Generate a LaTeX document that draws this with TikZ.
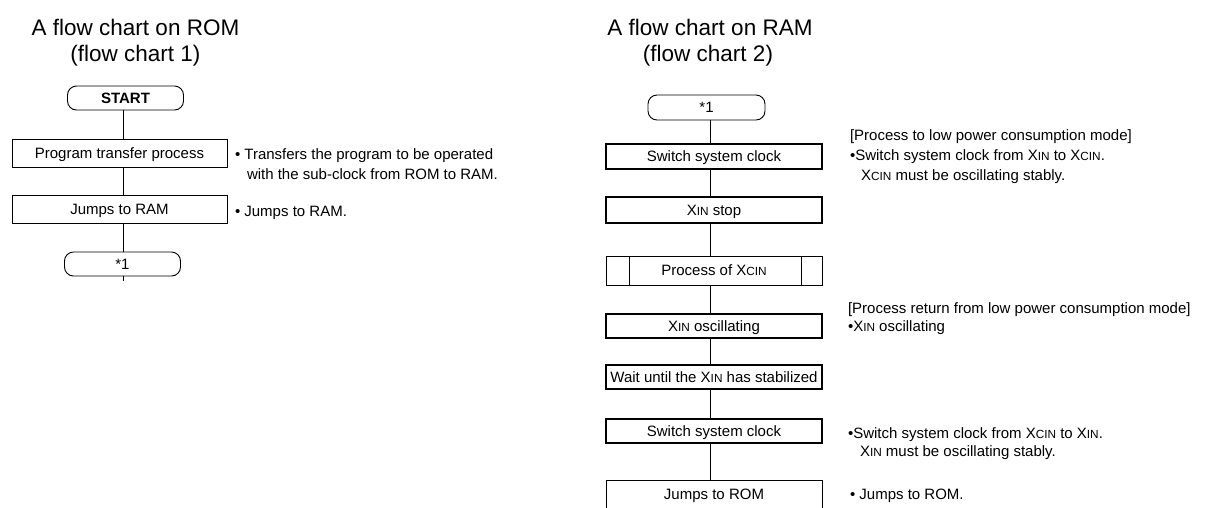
\documentclass[tikz,border=0pt]{standalone}
\usepackage{fontspec}
\setmainfont{Liberation Sans}
\usetikzlibrary{calc}
% smaller capitals used for the oscillator pin names (X-IN, X-CIN)
\newcommand\pinsc[1]{{\fontsize{11.8pt}{12pt}\selectfont #1}}

\begin{document}
\begin{tikzpicture}[x=1pt,y=-1pt,
  every node/.style={inner sep=0pt, outer sep=0pt},
  boxtext/.style={font=\fontsize{15pt}{18pt}\selectfont, text height=10.7pt, text depth=0pt},
  procbox/.style={boxtext, draw, line width=0.9pt, minimum width=216pt, minimum height=26pt},
  thickbox/.style={procbox, line width=2.4pt, minimum height=24pt},
  termbox/.style={boxtext, draw, line width=0.9pt, rounded corners=9pt, minimum width=116pt, minimum height=24pt},
  note/.style={anchor=base west, font=\fontsize{15pt}{18pt}\selectfont},
  heading/.style={anchor=base, font=\fontsize{22.5pt}{27pt}\selectfont},
  link/.style={draw, line width=0.9pt}
]
\fill[white] (0,0) rectangle (1207,507);
\useasboundingbox (0,0) rectangle (1207,507);

% ---------------- flow chart 1 (ROM) ----------------
\node[heading] (t1a) at (135.5,35) {A flow chart on ROM};
\node[heading] (t1b) at (135.5,61) {(flow chart 1)};

\node[termbox, font=\fontsize{15pt}{18pt}\selectfont\bfseries] (start) at (125.5,98) {START};
\node[procbox, minimum width=215pt, minimum height=28pt] (prog) at (119.5,153) {Program transfer process};
\node[procbox, minimum width=215pt, minimum height=28pt] (jram) at (119.5,209) {Jumps to RAM};
\node[termbox] (endl) at (122.5,264) {*1};

\coordinate (spineL) at (123,0);
\coordinate (tailL) at (123,281);
\draw[link] (start.south -| spineL) -- (prog.north -| spineL);
\draw[link] (prog.south -| spineL) -- (jram.north -| spineL);
\draw[link] (jram.south -| spineL) -- (endl.north -| spineL);
\draw[link] (endl.south -| spineL) -- (tailL);

\node[note] (n1a) at (235,159.4) {\textbullet\ Transfers the program to be operated};
\node[note] (n1b) at (247,179.4) {with the sub-clock from ROM to RAM.};
\node[note] (n1c) at (235,216.4) {\textbullet\ Jumps to RAM.};

% ---------------- flow chart 2 (RAM) ----------------
\node[heading] (t2a) at (710,35) {A flow chart on RAM};
\node[heading] (t2b) at (708,61) {(flow chart 2)};

\node[termbox, minimum width=117pt, minimum height=25pt] (s1) at (706.5,107.5) {*1};
\node[thickbox, minimum height=25pt] (ssc1) at (714,156.5) {Switch system clock};
\node[thickbox, minimum height=26pt] (xstop) at (714,210) {X\pinsc{IN} stop};
\node[procbox, minimum height=29pt] (pxcin) at (714,270.5) {Process of X\pinsc{CIN}};
\node[thickbox] (xosc) at (714,326) {X\pinsc{IN} oscillating};
\node[thickbox] (wait) at (714,377) {Wait until the X\pinsc{IN} has stabilized};
\node[thickbox] (ssc2) at (714,431) {Switch system clock};
\node[procbox, minimum height=44pt, text depth=16pt] (jrom) at (714,502) {Jumps to ROM};

% predefined-process side bars
\draw[line width=0.9pt] ($(pxcin.north west)+(23,0)$) -- ($(pxcin.south west)+(23,0)$);
\draw[line width=0.9pt] ($(pxcin.north east)+(-21,0)$) -- ($(pxcin.south east)+(-21,0)$);

\coordinate (spineR) at (710,0);
\draw[link] (s1.south -| spineR) -- (ssc1.north -| spineR);
\draw[link] (ssc1.south -| spineR) -- (xstop.north -| spineR);
\draw[link] (xstop.south -| spineR) -- (pxcin.north -| spineR);
\draw[link] (pxcin.south -| spineR) -- (xosc.north -| spineR);
\draw[link] (xosc.south -| spineR) -- (wait.north -| spineR);
\draw[link] (wait.south -| spineR) -- (ssc2.north -| spineR);
\draw[link] (ssc2.south -| spineR) -- (jrom.north -| spineR);

\node[note] (n2a) at (850,140.4) {[Process to low power consumption mode]};
\node[note] (n2b) at (850,160.4) {\textbullet Switch system clock from X\pinsc{IN} to X\pinsc{CIN}.};
\node[note] (n2c) at (861,180.4) {X\pinsc{CIN} must be oscillating stably.};

\node[note] (n2d) at (848,313.4) {[Process return from low power consumption mode]};
\node[note] (n2e) at (848,331.4) {\textbullet X\pinsc{IN} oscillating};

\node[note] (n2f) at (848,438.4) {\textbullet Switch system clock from X\pinsc{CIN} to X\pinsc{IN}.};
\node[note] (n2g) at (860,456.4) {X\pinsc{IN} must be oscillating stably.};

\node[note] (n2h) at (850,499.4) {\textbullet\ Jumps to ROM.};
\end{tikzpicture}
\end{document}
